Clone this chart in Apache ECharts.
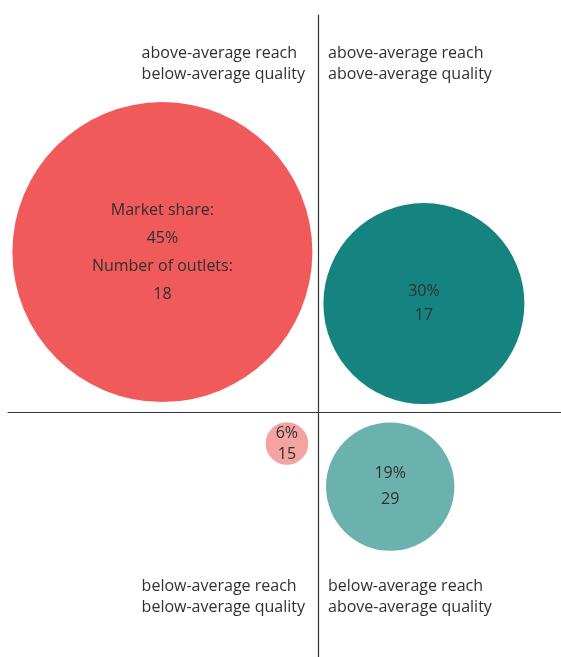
<!DOCTYPE html>
<html>
<head>
<meta charset="utf-8">
<script src="https://cdn.jsdelivr.net/npm/echarts@6/dist/echarts.min.js"></script>
<style>
  html, body { margin: 0; padding: 0; background: #fff; }
  #chart { width: 561px; height: 657px; }
</style>
</head>
<body>
<div id="chart"></div>
<script>
// outlet groups (x = quality vs average, y = reach vs average)
const groups = ['g1', 'g2', 'g3', 'g4']
const quality = [-1.556, 1.059, -0.311, 0.722]
const reach = [1.599, 1.084, -0.315, -0.746]
const marketShare = [45, 30, 6, 19]
const outlets = [18, 17, 15, 29]
const colors = ['#f05a5b', '#158481', '#f4a3a3', '#6bb2ae']
const lineHeights = [28, 24, 21, 26]

const quadrantLabels = [
  ['above-average reach', 'below-average quality'],
  ['above-average reach', 'above-average quality'],
  ['below-average reach', 'below-average quality'],
  ['below-average reach', 'above-average quality']
]

const textColor = '#303030'
const fontFamily = '"Open Sans", "Noto Sans", sans-serif'

const chart = echarts.init(document.getElementById('chart'))

const data = groups.map((g, i) => ({
  name: g,
  value: [quality[i], reach[i], marketShare[i], outlets[i]],
  itemStyle: { color: colors[i], opacity: 1 },
  label: {
    lineHeight: lineHeights[i],
    formatter: i === 0
      ? 'Market share:\n' + marketShare[i] + '%\nNumber of outlets:\n' + outlets[i]
      : marketShare[i] + '%\n' + outlets[i]
  }
}))

const quadText = (lines, x, y, align) => ({
  type: 'text',
  left: align === 'right' ? undefined : x,
  right: align === 'right' ? x : undefined,
  top: y,
  style: {
    text: lines.join('\n'),
    fill: textColor,
    font: '16px ' + fontFamily,
    lineHeight: 21,
    align: align
  }
})

const option = {
  animation: false,
  grid: { left: 8, right: 0, top: 15, bottom: 0 },
  xAxis: {
    type: 'value',
    min: -3.1,
    max: 2.43,
    axisLine: { onZero: true, lineStyle: { color: '#333', width: 1.2 } },
    axisTick: { show: false },
    axisLabel: { show: false },
    splitLine: { show: false }
  },
  yAxis: {
    type: 'value',
    min: -2.45,
    max: 3.97,
    axisLine: { show: true, onZero: true, lineStyle: { color: '#333', width: 1.2 } },
    axisTick: { show: false },
    axisLabel: { show: false },
    splitLine: { show: false }
  },
  series: [
    {
      type: 'scatter',
      data: data,
      // diameter grows with market share
      symbolSize: (val) => val[2] * 6.6 + 3,
      label: {
        show: true,
        position: 'inside',
        color: textColor,
        fontSize: 16,
        fontFamily: fontFamily
      },
      emphasis: { disabled: true }
    }
  ],
  graphic: [
    quadText(quadrantLabels[0], 256, 43, 'right'),
    quadText(quadrantLabels[1], 328, 43, 'left'),
    quadText(quadrantLabels[2], 256, 576, 'right'),
    quadText(quadrantLabels[3], 328, 576, 'left')
  ]
}

chart.setOption(option)
</script>
</body>
</html>
